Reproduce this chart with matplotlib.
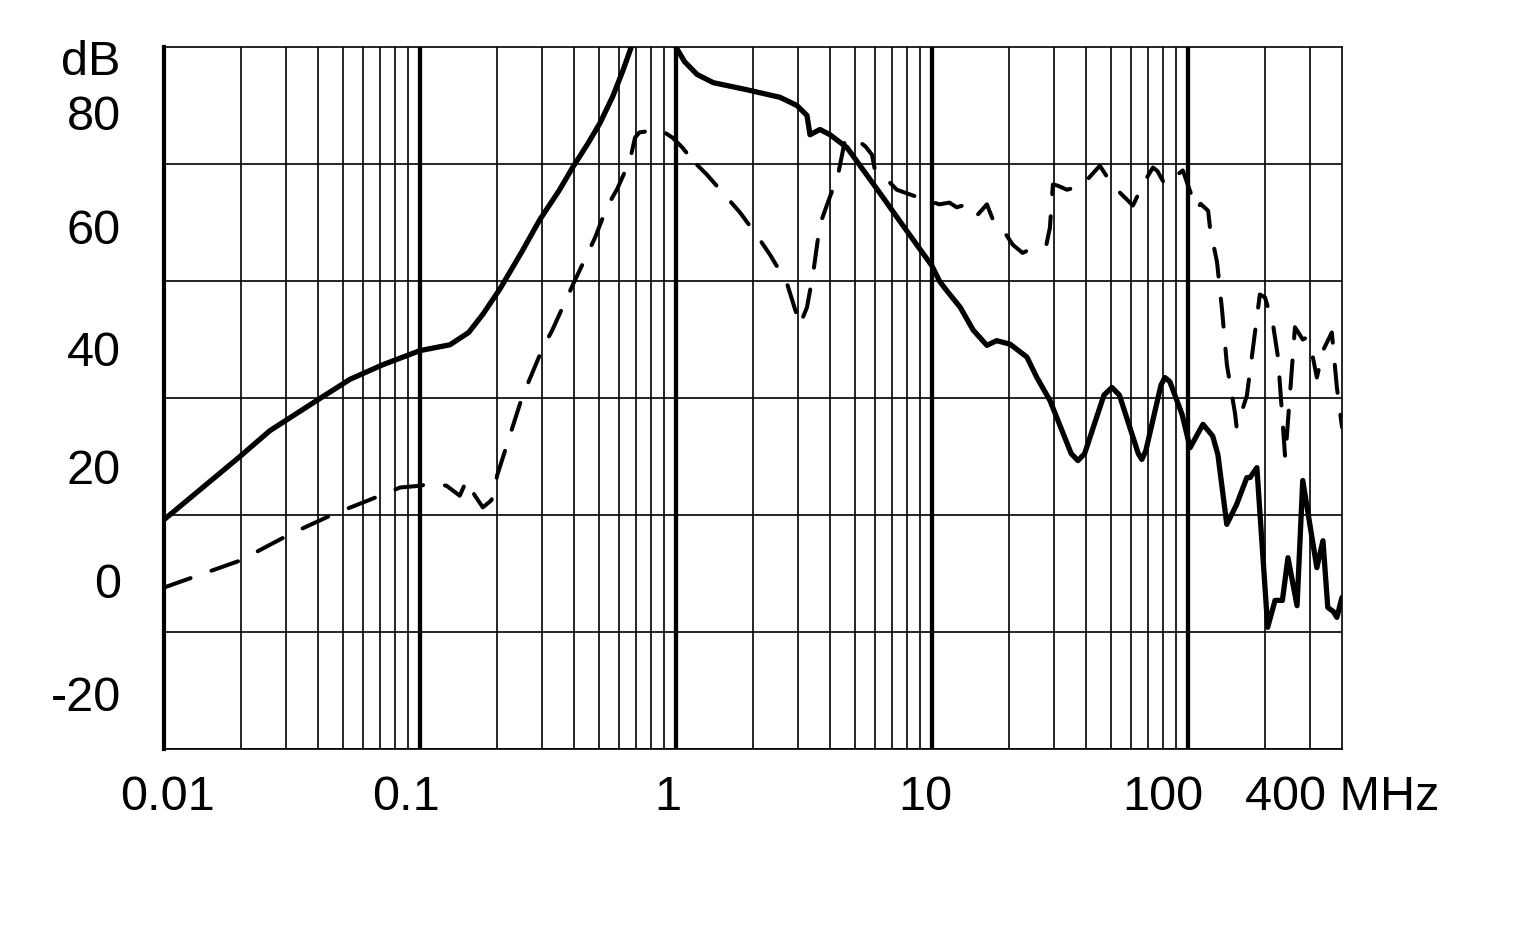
import numpy as np
import matplotlib
matplotlib.use("Agg")
import matplotlib.pyplot as plt
from matplotlib.transforms import ScaledTranslation
from matplotlib.ticker import FixedLocator, NullFormatter

plt.rcParams['font.family'] = ['Liberation Sans', 'DejaVu Sans']

# ---- data (frequency in MHz, attenuation in dB) ----
solid_freq = [0.01, 0.0198, 0.0259, 0.0396, 0.0533, 0.0717, 0.1, 0.131, 0.155, 0.176,
              0.205, 0.25, 0.294, 0.35, 0.396, 0.45, 0.505, 0.567, 0.621, 0.673,
              np.nan,
              1.0, 1.08, 1.21, 1.40, 1.89, 2.55, 2.97, 3.25, 3.34, 3.65, 4.0, 4.66,
              6.27, 7.5, 10.0, 10.7, 11.4, 12.9, 14.5, 16.4, 17.9, 20.2, 23.5,
              25.7, 28.9, 35.0, 37.2, 39.5, 47.0, 50.5, 54.0, 64.0, 66.1, 68.5, 78.5,
              81.3, 85.0, 94.9, 102, 114.5, 125, 131,
              141.9, 155, 170, 175, 186, 205, 219, 234, 246, 267, 281, 319, 337,
              352, 370, 382, 400]
solid_db = [9.2, 20.0, 24.4, 29.6, 33.2, 35.7, 38.1, 39.1, 41.2, 44.3,
            48.6, 55.0, 60.5, 65.5, 69.5, 73.3, 77.0, 81.6, 86.0, 90.3,
            np.nan,
            90.0, 87.5, 85.3, 83.9, 82.7, 81.4, 80.0, 78.3, 75.0, 75.9, 75.0, 72.8,
            65.0, 60.2, 52.6, 50.0, 48.4, 45.5, 41.6, 39.0, 39.8, 39.2, 37.0,
            33.5, 29.6, 20.5, 19.3, 20.5, 30.5, 31.8, 30.5, 20.5, 19.5, 21.0, 32.2,
            33.5, 32.8, 27.2, 21.5, 25.5, 23.5, 20.3,
            8.4, 11.8, 16.4, 16.4, 18.1, -9.2, -4.6, -4.6, 2.7, -5.5, 15.9, 1.0, 5.6,
            -5.8, -6.5, -7.5, -4.1]

dashed_freq = [0.01, 0.0198, 0.031, 0.0457, 0.0717, 0.0836, 0.1, 0.111, 0.127, 0.143,
               0.152, 0.164, 0.176, 0.19, 0.196, 0.2, 0.25, 0.302, 0.328, 0.396,
               0.483, 0.537, 0.589, 0.661, 0.692, 0.72, 0.866, 0.97, 1.06, 1.12, 1.16,
               1.2, 1.32, 1.58, 1.78, 2.07, 2.33, 2.71, 3.05, 3.25, 3.43, 3.65, 3.89,
               4.30, 4.49, 4.58, 5.14, 5.5, 5.83, 6.0, 6.55, 7.29, 8.2, 9.4, 10.7,
               11.7, 12.5, 13.7, 15.0, 16.4, 17.3, 18.9, 20.7, 22.6, 25.9, 28.0, 28.9,
               29.7, 31.0, 33.7, 38.5, 45.3, 50.9, 61.0, 66.7, 73.0, 76.0, 81.3, 95.5,
               105, 109, 112, 120, 122, 130, 136, 142, 153, 155, 170, 191, 200, 215,
               225, 240, 262, 281, 290, 308, 319, 337, 365, 382, 400]
dashed_db = [-2.4, 2.2, 6.7, 10.1, 13.5, 14.7, 15.0, 15.4, 15.0, 13.3,
             15.9, 13.3, 11.3, 12.5, 14.2, 16.7, 30.0, 38.6, 41.5, 49.4,
             57.4, 62.6, 65.7, 70.6, 74.5, 75.4, 75.9, 74.5, 72.8, 71.5, 72.0,
             70.0, 68.2, 64.3, 61.7, 57.8, 54.5, 49.7, 42.5, 45.5, 51.1, 59.6, 63.0,
             68.2, 72.3, 74.2, 74.0, 73.0, 71.6, 68.8, 67.7, 65.6, 64.8, 63.9, 63.1,
             63.4, 62.6, 63.1, 61.2, 63.1, 60.5, 58.8, 56.2, 54.8, 56.0, 56.2, 59.1,
             66.5, 66.3, 65.6, 66.3, 69.7, 66.3, 62.9, 66.5, 69.4, 68.8, 66.5, 68.9,
             63.8, 62.3, 63.2, 62.0, 59.1, 53.2, 45.0, 35.7, 27.2, 25.0, 30.4, 47.7, 47.2, 42.6,
             36.9, 19.7, 42.1, 40.0, 40.3, 36.9, 33.5, 38.1, 41.2, 31.8, 25.0]

x_major = [0.01, 0.1, 1, 10, 100, 400]
x_labels = ["0.01", "0.1", "1", "10", "100", "400 MHz"]
x_label_shift_px = [4, -14, -8, -7, -25, 0]
x_minor = [m * d for d in [0.01, 0.1, 1, 10] for m in range(2, 10)] + [200, 300]
y_major = [90, 80, 60, 40, 20, 0, -20]
y_labels = ["dB", "80", "60", "40", "20", "0", "-20"]
y_label_shift_px = [-9, -6, -3, -8, -9, -6, -2]
y_grid = list(range(-30, 91, 10))

W, H = 1519, 928
fig = plt.figure(figsize=(W / 100, H / 100), dpi=100)
ax = fig.add_axes([164 / W, 1 - 750 / H, (1342 - 164) / W, (750 - 48) / H])
ax.set_xscale("log")
ax.set_xlim(0.01, 400)
ax.set_ylim(-30, 90)

# grid
ax.xaxis.set_major_locator(FixedLocator(x_major))
ax.xaxis.set_minor_locator(FixedLocator(x_minor))
ax.xaxis.set_minor_formatter(NullFormatter())
ax.set_xticklabels(x_labels)
ax.yaxis.set_major_locator(FixedLocator(y_major))
ax.yaxis.set_minor_locator(FixedLocator(y_grid))
ax.set_yticklabels(y_labels)

ax.grid(True, which="major", axis="x", color="black", lw=3.1)
ax.grid(True, which="minor", axis="x", color="black", lw=1.2)
ax.grid(True, which="minor", axis="y", color="black", lw=1.2)
ax.grid(False, which="major", axis="y")
for t in ax.xaxis.get_major_ticks():
    if t.get_loc() in (0.01, 400):
        t.gridline.set_visible(False)

ax.tick_params(which="both", length=0)
ax.tick_params(axis="x", which="major", labelsize=35, pad=18)
ax.tick_params(axis="y", which="major", labelsize=35, pad=31)

for s in ["top", "right", "bottom"]:
    ax.spines[s].set_linewidth(1.2)
ax.spines["left"].set_linewidth(3.0)

for lab, dx in zip(ax.get_xticklabels(), x_label_shift_px):
    lab.set_transform(lab.get_transform() + ScaledTranslation(dx / 100, 0, fig.dpi_scale_trans))
for lab, dy in zip(ax.get_yticklabels(), y_label_shift_px):
    lab.set_transform(lab.get_transform() + ScaledTranslation(0, dy / 100, fig.dpi_scale_trans))

ax.plot(solid_freq, solid_db, color="black", lw=3.8, solid_joinstyle="round",
        solid_capstyle="round", zorder=5)
ax.plot(dashed_freq, dashed_db, color="black", lw=2.9, linestyle=(0, (7, 5.5)),
        dash_capstyle="round", dash_joinstyle="round", zorder=5)

fig.savefig("out.png", dpi=100)
